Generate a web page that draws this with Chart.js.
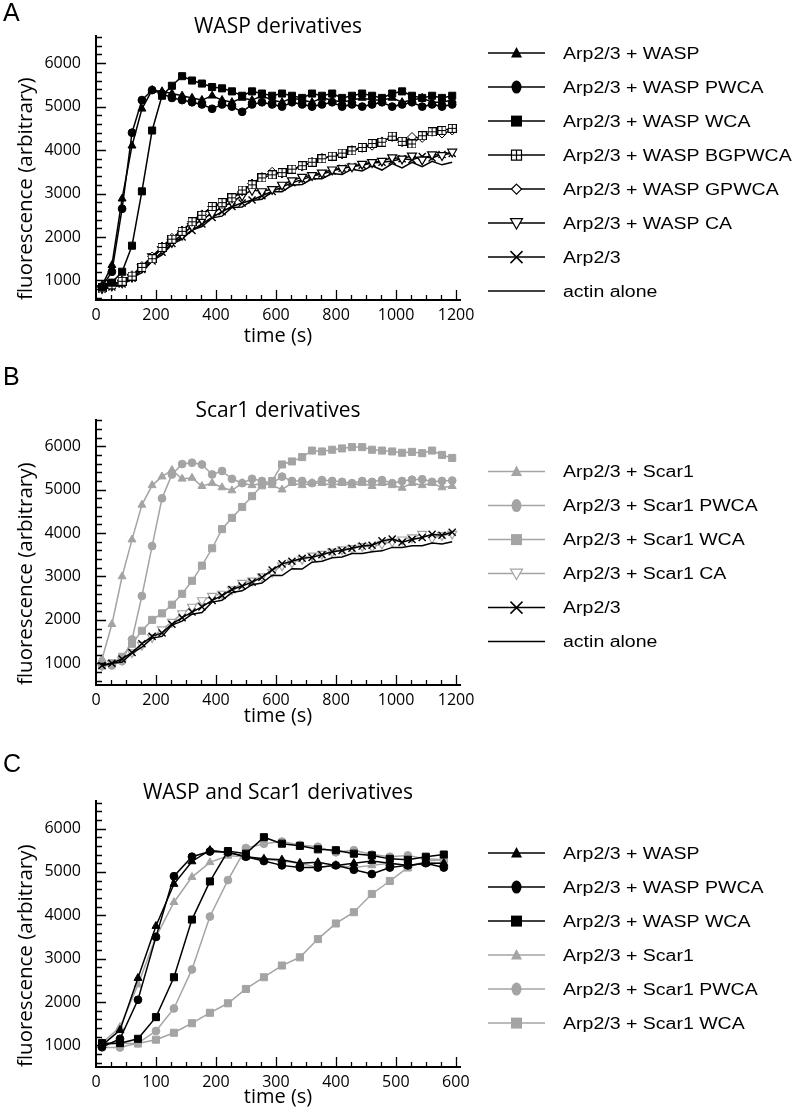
<!DOCTYPE html>
<html>
<head>
<meta charset="utf-8">
<script src="https://cdn.jsdelivr.net/npm/chart.js@4.4.0/dist/chart.umd.min.js"></script>
<style>
  body { margin: 0; background: #fff; }
  #wrap { position: relative; width: 800px; height: 1112px; overflow: hidden; }
  canvas { position: absolute; left: 0; }
</style>
</head>
<body>
<div id="wrap">
  <canvas id="chartA" width="800" height="350" style="top:0px"></canvas>
  <canvas id="chartB" width="800" height="375" style="top:360px"></canvas>
  <canvas id="chartC" width="800" height="372" style="top:740px"></canvas>
</div>
<script>
// ---- data ----
const timesAB = [20, 53, 87, 120, 153, 187, 220, 253, 287, 320, 353, 387, 420, 453, 487, 520, 553, 587,
                 620, 653, 687, 720, 753, 787, 820, 853, 887, 920, 953, 987, 1020, 1053, 1087, 1120, 1153, 1187];
const timesC = [10, 40, 70, 100, 130, 160, 190, 220, 250, 280, 310, 340, 370, 400, 430, 460, 490, 520, 550, 580];

const xTicksAB = [0, 200, 400, 600, 800, 1000, 1200];
const xTicksC = [0, 100, 200, 300, 400, 500, 600];
const yTicks = [1000, 2000, 3000, 4000, 5000, 6000];

// panel A - WASP derivatives
const waspA   = [880, 1350, 2880, 4100, 4950, 5380, 5350, 5300, 5250, 5200, 5150, 5250, 5150, 5100, 5200, 5150, 5250, 5150,
                 5100, 5200, 5150, 5100, 5200, 5150, 5100, 5150, 5200, 5150, 5150, 5200, 5100, 5150, 5200, 5100, 5100, 5150];
const pwcaA   = [850, 1200, 2650, 4400, 5150, 5380, 5300, 5200, 5150, 5100, 5050, 4950, 5050, 5000, 4880, 5050, 5100, 5050,
                 5000, 5100, 5050, 5000, 5050, 5100, 5000, 5050, 5000, 5050, 5100, 5000, 5050, 5100, 5000, 5050, 5000, 5050];
const wcaA    = [850, 950, 1200, 1800, 3050, 4450, 5250, 5480, 5700, 5600, 5530, 5450, 5420, 5350, 5250, 5350, 5300, 5250,
                 5300, 5250, 5200, 5300, 5250, 5300, 5200, 5250, 5300, 5250, 5200, 5300, 5350, 5250, 5200, 5250, 5200, 5250];
const bgpwcaA = [830, 900, 980, 1100, 1300, 1500, 1760, 1950, 2130, 2350, 2500, 2700, 2790, 2900, 3080, 3200, 3360, 3430,
                 3480, 3560, 3640, 3720, 3800, 3860, 3930, 3980, 4060, 4150, 4180, 4320, 4200, 4140, 4330, 4420, 4450, 4500];
const gpwcaA  = [850, 900, 1000, 1120, 1330, 1550, 1780, 1980, 2150, 2350, 2520, 2700, 2760, 2880, 3050, 3230, 3380, 3500,
                 3460, 3550, 3620, 3730, 3820, 3850, 3900, 4000, 4050, 4100, 4200, 4300, 4180, 4300, 4280, 4420, 4380, 4450];
const caA     = [820, 880, 950, 1080, 1300, 1550, 1720, 1880, 2050, 2250, 2400, 2550, 2680, 2800, 2950, 3080, 3050, 3100,
                 3200, 3300, 3380, 3420, 3480, 3550, 3580, 3620, 3680, 3720, 3750, 3830, 3800, 3870, 3780, 3900, 3880, 3960];
const arpA    = [800, 850, 920, 1050, 1250, 1450, 1650, 1850, 2000, 2150, 2300, 2450, 2580, 2700, 2780, 2850, 2950, 3050,
                 3150, 3250, 3320, 3400, 3450, 3520, 3580, 3620, 3650, 3700, 3720, 3750, 3800, 3780, 3850, 3820, 3900, 3920];
const actinA  = [800, 860, 880, 1060, 1180, 1450, 1590, 1830, 1950, 2160, 2240, 2440, 2480, 2680, 2690, 2840, 2870, 3040,
                 3040, 3190, 3210, 3340, 3340, 3460, 3440, 3560, 3520, 3640, 3540, 3690, 3590, 3720, 3620, 3740, 3660, 3720];

// panel B - Scar1 derivatives
const scarB   = [1100, 1900, 3000, 3850, 4650, 5100, 5300, 5450, 5250, 5270, 5080, 5150, 5050, 4980, 5150, 5100, 5150, 5100,
                 5000, 5150, 5100, 5150, 5150, 5100, 5150, 5100, 5150, 5080, 5150, 5100, 5040, 5150, 5100, 5150, 5050, 5080];
const pwcaB   = [950, 950, 1050, 1550, 2550, 3700, 4800, 5350, 5590, 5620, 5580, 5350, 5430, 5250, 5150, 5250, 5200, 5150,
                 5300, 5200, 5200, 5150, 5220, 5200, 5180, 5150, 5200, 5180, 5220, 5150, 5200, 5230, 5240, 5180, 5200, 5210];
const wcaB    = [950, 1000, 1150, 1450, 1750, 2000, 2150, 2350, 2600, 2900, 3250, 3650, 4090, 4350, 4600, 4850, 5100, 5200,
                 5580, 5650, 5750, 5900, 5880, 5920, 5950, 5980, 5980, 5920, 5900, 5880, 5850, 5870, 5840, 5900, 5800, 5730];
const caB     = [950, 1000, 1080, 1250, 1420, 1600, 1780, 1950, 2150, 2300, 2450, 2550, 2600, 2700, 2850, 2900, 3000, 3100,
                 3250, 3320, 3400, 3480, 3520, 3570, 3620, 3650, 3700, 3680, 3750, 3800, 3850, 3900, 3980, 3880, 3950, 3980];
const arpB    = [950, 1000, 1100, 1250, 1450, 1620, 1700, 1900, 2050, 2180, 2300, 2450, 2560, 2700, 2780, 2870, 2980, 3150,
                 3290, 3350, 3420, 3440, 3500, 3570, 3600, 3650, 3700, 3720, 3820, 3860, 3790, 3850, 3900, 3970, 3950, 4020];
const actinB  = [950, 1000, 1030, 1230, 1370, 1580, 1620, 1880, 1970, 2130, 2170, 2410, 2450, 2630, 2670, 2810, 2850, 3030,
                 3020, 3180, 3170, 3330, 3350, 3430, 3450, 3530, 3530, 3570, 3590, 3670, 3670, 3710, 3710, 3770, 3750, 3800];

// panel C - WASP and Scar1 derivatives
const waspC     = [1000, 1350, 2550, 3750, 4720, 5240, 5500, 5450, 5350, 5300, 5280, 5200, 5220, 5150, 5200, 5250, 5200, 5150, 5200, 5200];
const pwcaC     = [960, 1150, 2050, 3500, 4900, 5350, 5470, 5450, 5350, 5250, 5150, 5100, 5100, 5150, 5050, 4950, 5100, 5150, 5200, 5100];
const wcaC      = [1050, 1050, 1150, 1650, 2570, 3900, 4780, 5480, 5420, 5800, 5650, 5600, 5520, 5500, 5420, 5380, 5300, 5280, 5350, 5400];
const scarC     = [1050, 1420, 2400, 3500, 4300, 4880, 5220, 5370, 5350, 5290, 5250, 5200, 5100, 5150, 5100, 5150, 5200, 5150, 5200, 5200];
const scarPwcaC = [950, 950, 1050, 1330, 1850, 2750, 3970, 4810, 5550, 5650, 5700, 5620, 5580, 5450, 5500, 5400, 5350, 5380, 5300, 5280];
const scarWcaC  = [1000, 1050, 1040, 1130, 1290, 1510, 1750, 1970, 2300, 2570, 2840, 3030, 3450, 3810, 4070, 4490, 4790, 5100, 5250, 5280];

const BLACK = '#000000';
const GREY = '#a4a4a4';

// small open square with a plus, used as a point image
const boxPlus = document.createElement('canvas');
boxPlus.width = 9; boxPlus.height = 9;
(function() {
    const c = boxPlus.getContext('2d');
    c.fillStyle = '#fff';
    c.fillRect(0, 0, 9, 9);
    c.strokeStyle = '#000';
    c.lineWidth = 1;
    c.strokeRect(0.5, 0.5, 8, 8);
    c.beginPath();
    c.moveTo(4.5, 1); c.lineTo(4.5, 8);
    c.moveTo(1, 4.5); c.lineTo(8, 4.5);
    c.stroke();
})();

function pointOpts(marker, color) {
    switch (marker) {
        case 'triangle':
            return { pointStyle: 'triangle', pointRadius: 4.6, pointBackgroundColor: color, pointBorderColor: color, pointBorderWidth: 1 };
        case 'circle':
            return { pointStyle: 'circle', pointRadius: 3.9, pointBackgroundColor: color, pointBorderColor: color, pointBorderWidth: 1 };
        case 'square':
            return { pointStyle: 'rect', pointRadius: 5, pointBackgroundColor: color, pointBorderColor: color, pointBorderWidth: 1 };
        case 'boxPlus':
            return { pointStyle: boxPlus, pointRadius: 4.5 };
        case 'diamond':
            return { pointStyle: 'rectRot', pointRadius: 4.5, pointBackgroundColor: '#fff', pointBorderColor: color, pointBorderWidth: 1 };
        case 'triangleDown':
            return { pointStyle: 'triangle', pointRotation: 180, pointRadius: 5.2, pointBackgroundColor: '#fff', pointBorderColor: color, pointBorderWidth: 1.2 };
        case 'cross':
            return { pointStyle: 'crossRot', pointRadius: 5, pointBorderColor: color, pointBorderWidth: 1.4 };
        default:
            return { pointRadius: 0 };
    }
}

// legend symbols (drawn a little larger than the plot markers)
function drawMarker(ctx, marker, x, y, color) {
    ctx.save();
    ctx.fillStyle = color;
    ctx.strokeStyle = color;
    ctx.lineWidth = 1.2;
    ctx.beginPath();
    switch (marker) {
        case 'triangle':
            ctx.moveTo(x, y - 6); ctx.lineTo(x + 5.5, y + 4.5); ctx.lineTo(x - 5.5, y + 4.5); ctx.closePath();
            ctx.fill();
            break;
        case 'circle':
            ctx.ellipse(x, y, 5, 6.5, 0, 0, Math.PI * 2);
            ctx.fill();
            break;
        case 'square':
            ctx.rect(x - 5.5, y - 5.5, 11, 11);
            ctx.fill();
            break;
        case 'boxPlus':
            ctx.fillStyle = '#fff';
            ctx.rect(x - 5, y - 5, 10, 10);
            ctx.fill(); ctx.stroke();
            ctx.beginPath();
            ctx.moveTo(x, y - 5); ctx.lineTo(x, y + 5);
            ctx.moveTo(x - 5, y); ctx.lineTo(x + 5, y);
            ctx.stroke();
            break;
        case 'diamond':
            ctx.fillStyle = '#fff';
            ctx.moveTo(x, y - 5); ctx.lineTo(x + 5, y); ctx.lineTo(x, y + 5); ctx.lineTo(x - 5, y); ctx.closePath();
            ctx.fill(); ctx.stroke();
            break;
        case 'triangleDown':
            ctx.fillStyle = '#fff';
            ctx.moveTo(x - 6, y - 4.5); ctx.lineTo(x + 6, y - 4.5); ctx.lineTo(x, y + 6); ctx.closePath();
            ctx.fill(); ctx.stroke();
            break;
        case 'cross':
            ctx.lineWidth = 1.5;
            ctx.moveTo(x - 6, y - 6); ctx.lineTo(x + 6, y + 6);
            ctx.moveTo(x + 6, y - 6); ctx.lineTo(x - 6, y + 6);
            ctx.stroke();
            break;
    }
    ctx.restore();
}

// inward minor/major ticks, the line legend and the panel letter
const panelDecor = {
    id: 'panelDecor',
    afterDraw(chart, args, o) {
        const ctx = chart.ctx;
        const a = chart.chartArea;
        const xs = chart.scales.x;
        const ys = chart.scales.y;
        ctx.save();
        ctx.strokeStyle = '#000';
        ctx.lineWidth = 1.3;
        ctx.beginPath();
        for (let v = Math.ceil(ys.min / o.yMinor) * o.yMinor; v <= ys.max; v += o.yMinor) {
            const py = Math.round(ys.getPixelForValue(v)) + 0.5;
            const len = v % o.yMajor === 0 ? 10 : 6;
            ctx.moveTo(a.left, py);
            ctx.lineTo(a.left + len, py);
        }
        for (let v = o.xMinor; v <= xs.max; v += o.xMinor) {
            const px = Math.round(xs.getPixelForValue(v)) + 0.5;
            const len = v % o.xMajor === 0 ? 10 : 5;
            ctx.moveTo(px, a.bottom);
            ctx.lineTo(px, a.bottom - len);
        }
        ctx.stroke();

        // legend
        const sets = chart.data.datasets;
        const rowH = 34;
        const x0 = a.right + 28;
        let y = (a.top + a.bottom) / 2 + 4 - (sets.length - 1) * rowH / 2;
        sets.forEach(ds => {
            ctx.strokeStyle = ds.borderColor;
            ctx.lineWidth = 1.5;
            ctx.beginPath();
            ctx.moveTo(x0, y);
            ctx.lineTo(x0 + 57, y);
            ctx.stroke();
            drawMarker(ctx, o.markers[ds.label], x0 + 28.5, y, ds.borderColor);
            ctx.save();
            ctx.translate(x0 + 75, y);
            ctx.scale(1.22, 1);
            ctx.fillStyle = '#000';
            ctx.font = '16px "Liberation Sans", Arial, sans-serif';
            ctx.textBaseline = 'middle';
            ctx.fillText(ds.label, 0, 1);
            ctx.restore();
            y += rowH;
        });

        ctx.fillStyle = '#000';
        ctx.font = '25px "Liberation Sans", Arial, sans-serif';
        ctx.textBaseline = 'alphabetic';
        ctx.fillText(o.letter, 3, o.letterY);
        ctx.restore();
    }
};

Chart.defaults.font.family = '"Open Sans", "Noto Sans", sans-serif';
Chart.defaults.color = '#000';

function buildChart(canvasId, p) {
    const markers = {};
    const datasets = p.series.map(s => {
        markers[s.label] = s.marker;
        return Object.assign({
            label: s.label,
            data: p.times.map((t, i) => ({ x: t, y: s.data[i] })),
            borderColor: s.color,
            borderWidth: 1.5,
            tension: 0,
            fill: false,
            order: s.order || 0
        }, pointOpts(s.marker, s.color));
    });

    return new Chart(document.getElementById(canvasId), {
        type: 'line',
        data: { datasets: datasets },
        options: {
            responsive: false,
            animation: false,
            devicePixelRatio: 1,
            events: [],
            layout: { padding: { left: 0, right: 340, top: 0, bottom: 0 } },
            plugins: {
                legend: { display: false },
                tooltip: { enabled: false },
                title: {
                    display: true,
                    text: p.title,
                    fullSize: false,
                    color: '#000',
                    font: { size: 21, weight: 'normal' },
                    padding: { top: p.titleTop, bottom: p.titleBottom }
                },
                panelDecor: {
                    letter: p.letter,
                    letterY: p.letterY,
                    markers: markers,
                    xMinor: p.xMinor,
                    xMajor: p.xMajor,
                    yMinor: 200,
                    yMajor: 1000
                }
            },
            scales: {
                x: {
                    type: 'linear',
                    min: 0,
                    max: p.xMax,
                    grid: { display: false, drawTicks: false },
                    border: { display: true, color: '#000', width: 2 },
                    afterBuildTicks: scale => { scale.ticks = p.xTicks.map(v => ({ value: v })); },
                    afterFit: scale => { scale.height = p.xAxisH; },
                    ticks: { autoSkip: false, maxRotation: 0, padding: 6, font: { size: 16 }, color: '#000',
                             callback: v => String(v) },
                    title: {
                        display: true,
                        text: 'time (s)',
                        color: '#000',
                        font: { size: 20 },
                        padding: { top: 0, bottom: p.xTitleBottom }
                    }
                },
                y: {
                    type: 'linear',
                    min: p.yMin,
                    max: p.yMax,
                    grid: { display: false, drawTicks: false },
                    border: { display: true, color: '#000', width: 2 },
                    afterBuildTicks: scale => { scale.ticks = yTicks.map(v => ({ value: v })); },
                    afterFit: scale => { scale.width = 96; },
                    ticks: { padding: 15, font: { size: 16 }, color: '#000', callback: v => String(v) },
                    title: {
                        display: true,
                        text: 'fluorescence (arbitrary)',
                        align: 'start',
                        color: '#000',
                        font: { size: 20.5 },
                        padding: { top: 14, bottom: 0 }
                    }
                }
            }
        },
        plugins: [panelDecor]
    });
}

buildChart('chartA', {
    title: 'WASP derivatives', letter: 'A', letterY: 21,
    titleTop: 14, titleBottom: -3, xAxisH: 50, xTitleBottom: 2,
    times: timesAB, xTicks: xTicksAB, xMax: 1213, xMinor: 50, xMajor: 200,
    yMin: 550, yMax: 6620,
    series: [
        { label: 'Arp2/3 + WASP', data: waspA, marker: 'triangle', color: BLACK },
        { label: 'Arp2/3 + WASP PWCA', data: pwcaA, marker: 'circle', color: BLACK },
        { label: 'Arp2/3 + WASP WCA', data: wcaA, marker: 'square', color: BLACK },
        { label: 'Arp2/3 + WASP BGPWCA', data: bgpwcaA, marker: 'boxPlus', color: BLACK },
        { label: 'Arp2/3 + WASP GPWCA', data: gpwcaA, marker: 'diamond', color: BLACK },
        { label: 'Arp2/3 + WASP CA', data: caA, marker: 'triangleDown', color: BLACK },
        { label: 'Arp2/3', data: arpA, marker: 'cross', color: BLACK },
        { label: 'actin alone', data: actinA, marker: 'none', color: BLACK }
    ]
});

buildChart('chartB', {
    title: 'Scar1 derivatives', letter: 'B', letterY: 25,
    titleTop: 38, titleBottom: -3, xAxisH: 50, xTitleBottom: 7,
    times: timesAB, xTicks: xTicksAB, xMax: 1213, xMinor: 50, xMajor: 200,
    yMin: 500, yMax: 6600,
    series: [
        { label: 'Arp2/3 + Scar1', data: scarB, marker: 'triangle', color: GREY, order: 1 },
        { label: 'Arp2/3 + Scar1 PWCA', data: pwcaB, marker: 'circle', color: GREY, order: 1 },
        { label: 'Arp2/3 + Scar1 WCA', data: wcaB, marker: 'square', color: GREY, order: 1 },
        { label: 'Arp2/3 + Scar1 CA', data: caB, marker: 'triangleDown', color: GREY, order: 1 },
        { label: 'Arp2/3', data: arpB, marker: 'cross', color: BLACK },
        { label: 'actin alone', data: actinB, marker: 'none', color: BLACK }
    ]
});

buildChart('chartC', {
    title: 'WASP and Scar1 derivatives', letter: 'C', letterY: 32,
    titleTop: 40, titleBottom: -4, xAxisH: 45, xTitleBottom: 3,
    times: timesC, xTicks: xTicksC, xMax: 607, xMinor: 25, xMajor: 100,
    yMin: 500, yMax: 6630,
    series: [
        { label: 'Arp2/3 + WASP', data: waspC, marker: 'triangle', color: BLACK },
        { label: 'Arp2/3 + WASP PWCA', data: pwcaC, marker: 'circle', color: BLACK },
        { label: 'Arp2/3 + WASP WCA', data: wcaC, marker: 'square', color: BLACK },
        { label: 'Arp2/3 + Scar1', data: scarC, marker: 'triangle', color: GREY, order: 1 },
        { label: 'Arp2/3 + Scar1 PWCA', data: scarPwcaC, marker: 'circle', color: GREY, order: 1 },
        { label: 'Arp2/3 + Scar1 WCA', data: scarWcaC, marker: 'square', color: GREY, order: 1 }
    ]
});
</script>
</body>
</html>
